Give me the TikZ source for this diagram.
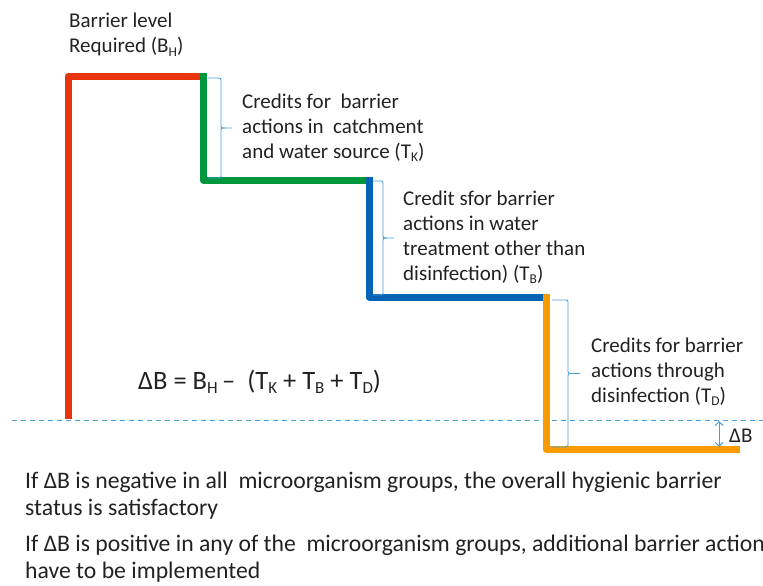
\documentclass[tikz,border=0pt]{standalone}
\usepackage{fontspec}
\setmainfont{Carlito}
\usetikzlibrary{arrows.meta}
\definecolor{cred}{HTML}{E8340C}
\definecolor{cgreen}{HTML}{00963C}
\definecolor{cblue}{HTML}{0563B5}
\definecolor{corange}{HTML}{F79B00}
\definecolor{cbrace}{HTML}{4A9FDB}
\definecolor{ctext}{HTML}{222222}
\newcommand\subs[1]{\raisebox{-0.35ex}{\scalebox{0.64}{#1}}}
\newcommand\mybrace[5]{% xl, xs, yt, yb, xtip
  \pgfmathsetmacro\ym{(#3+#4)/2}
  \draw[bracestyle] (#1,#3) -- ({#2-4},#3) .. controls (#2,#3) .. (#2,{#3+4})
    -- (#2,{\ym-4}) .. controls (#2,\ym) .. ({#2+4},\ym) -- (#5,\ym);
  \draw[bracestyle] ({#2+4},\ym) .. controls (#2,\ym) .. (#2,{\ym+4})
    -- (#2,{#4-4}) .. controls (#2,#4) .. ({#2-4},#4) -- (#1,#4);
}
\begin{document}
\begin{tikzpicture}[x=1pt,y=-1pt,
  step line/.style={line width=7pt,line join=round,line cap=rect},
  bracestyle/.style={cbrace,line width=0.9pt},
  lbl/.style={anchor=base west,inner sep=0pt,text=ctext,align=left},
  small/.style={font=\fontsize{21}{25}\selectfont},
  big/.style={font=\fontsize{23.7}{27}\selectfont}]
\useasboundingbox (0,0) rectangle (763,586);
% dashed baseline
\coordinate (dl) at (12,420);
\coordinate (dr) at (763,420);
\draw[cbrace,line width=0.9pt,dash pattern=on 5pt off 4pt] (dl) -- (dr);
% steps
\coordinate (r0) at (68,415.5);
\coordinate (r1) at (68,77);
\coordinate (g0) at (203,77);
\coordinate (g1) at (203,180);
\coordinate (b0) at (369,180);
\coordinate (b1) at (369,297);
\coordinate (o0) at (546,297);
\coordinate (o1) at (546,449);
\coordinate (o2) at (736.5,449);
\draw[step line,cred] (r0) -- (r1) -- (g0);
\draw[step line,cgreen] (g0) -- (g1) -- (b0);
\draw[step line,cblue] (b0) -- (b1) -- (o0);
\draw[step line,corange] (o0) -- (o1) -- (o2);
% braces
\mybrace{208}{221}{78}{178}{232}
\mybrace{373}{383}{181}{295}{394}
\mybrace{552}{568}{300}{447}{580}
% delta B arrow
\coordinate (da) at (719,421);
\coordinate (db) at (719,447);
\draw[cbrace,line width=0.9pt,{Straight Barb[length=4pt,width=8pt]}-{Straight Barb[length=4pt,width=8pt]}] (da) -- (db);
\node[lbl,small] (dB) at (729,442) {ΔB};
% texts (anchor = baseline of last line)
\node[lbl,small] (req) at (69,53) {Barrier level\\Required (B\subs{H})};
\node[lbl,small] (tk) at (242,158) {Credits for\ \ barrier\\actions in\ \ catchment\\and water source (T\subs{K})};
\node[lbl,small] (tb) at (403,280) {Credit sfor barrier\\actions in water\\treatment other than\\disinfection) (T\subs{B})};
\node[lbl,small] (td) at (591,402) {Credits for barrier\\actions through\\disinfection (T\subs{D})};
\node[lbl,font=\fontsize{26.5}{30}\selectfont] (eq) at (138,389) {ΔB = B\subs{H}\,–\ \ (T\subs{K} + T\subs{B} + T\subs{D})};
\node[lbl,big] (n1) at (25,515) {If ΔB is negative in all\ \ microorganism groups, the overall hygienic barrier\\status is satisfactory};
\node[lbl,big] (n2) at (25,578) {If ΔB is positive in any of the\ \ microorganism groups, additional barrier actions\\have to be implemented};
\end{tikzpicture}
\end{document}
